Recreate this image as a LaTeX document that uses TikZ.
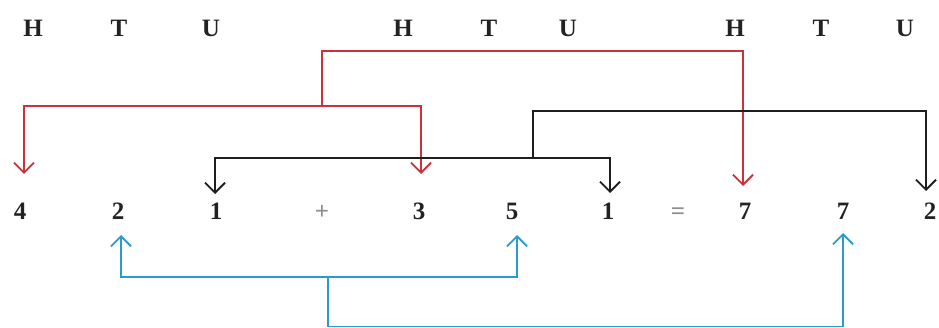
\documentclass[tikz,border=0pt]{standalone}
\usepackage{fontspec}
\setmainfont{Liberation Serif}
\usetikzlibrary{arrows.meta}
\definecolor{rline}{HTML}{C8323C}
\definecolor{kline}{HTML}{1E1E1E}
\definecolor{cline}{HTML}{2A9BD0}
\definecolor{dtext}{HTML}{222222}
\definecolor{gtext}{HTML}{8E8E8E}
\begin{document}
\begin{tikzpicture}[x=1pt,y=-1pt,
  lbl/.style={anchor=base,inner sep=0pt,font=\fontsize{25}{29}\selectfont\bfseries,text=dtext},
  opr/.style={lbl,text=gtext},
  conn/.style={line width=1.9pt,line cap=butt,line join=miter},
  tip/.style={-{Straight Barb[length=10pt,width=20pt,line width=1.9pt]}},
  tips/.style={{Straight Barb[length=10pt,width=20pt,line width=1.9pt]}-{Straight Barb[length=10pt,width=20pt,line width=1.9pt]}}]
\useasboundingbox (0,0) rectangle (939,328);
% header letters
\node[lbl] (h1) at (33,37) {H};
\node[lbl] (t1) at (119,37) {T};
\node[lbl] (u1) at (211,37) {U};
\node[lbl] (h2) at (403,37) {H};
\node[lbl] (t2) at (489,37) {T};
\node[lbl] (u2) at (568,37) {U};
\node[lbl] (h3) at (735,37) {H};
\node[lbl] (t3) at (821,37) {T};
\node[lbl] (u3) at (905,37) {U};
% digits
\node[lbl] (d4) at (20,220) {4};
\node[lbl] (d2) at (118,220) {2};
\node[lbl] (d1) at (216,220) {1};
\node[opr] (plus) at (322,220) {+};
\node[lbl] (d3) at (419,220) {3};
\node[lbl] (d5) at (512,220) {5};
\node[lbl] (e1) at (608,220) {1};
\node[opr] (eq) at (678,220) {=};
\node[lbl] (s7a) at (745,220) {7};
\node[lbl] (s7b) at (843,220) {7};
\node[lbl] (s2) at (930,220) {2};
% connector points
\coordinate (rj) at (322,106);
\coordinate (rt) at (322,51);
\coordinate (r4) at (24,174);
\coordinate (r3) at (421,174);
\coordinate (r7) at (743,186);
\coordinate (kj) at (533,158);
\coordinate (kt) at (533,111);
\coordinate (k1) at (215,194);
\coordinate (k1b) at (610,193);
\coordinate (k2) at (926,191);
\coordinate (cj) at (328,277);
\coordinate (cb) at (328,326.5);
\coordinate (c2) at (121,235);
\coordinate (c5) at (517,235);
\coordinate (c7) at (843,233);
% red
\draw[conn,rline,tip] (rj) -- (rt) -| (r7);
\draw[conn,rline,tips] (r4) |- (rj) -| (r3);
% black
\draw[conn,kline,tip] (kj) -- (kt) -| (k2);
\draw[conn,kline,tips] (k1) |- (kj) -| (k1b);
% cyan
\draw[conn,cline,tips] (c2) |- (cj) -| (c5);
\draw[conn,cline,tip] (cj) -- (cb) -| (c7);
\end{tikzpicture}
\end{document}
